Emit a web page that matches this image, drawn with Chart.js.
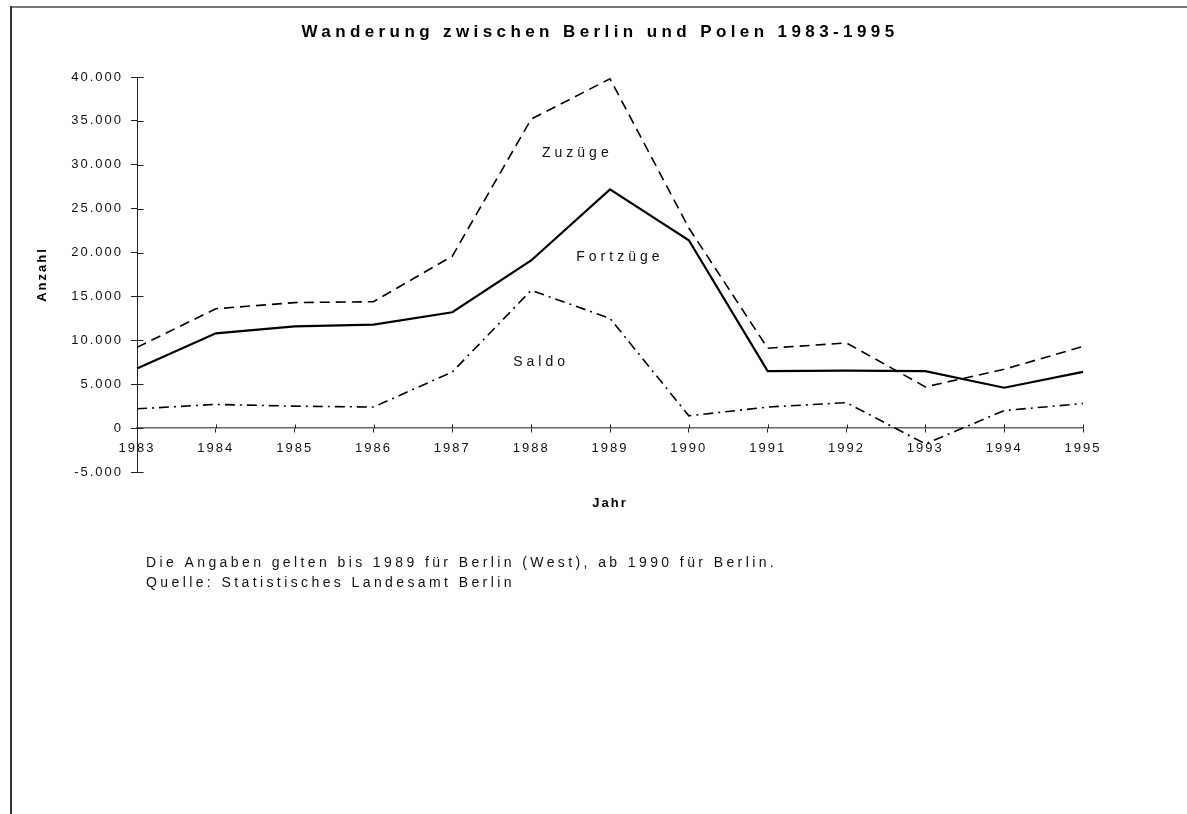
<!DOCTYPE html>
<html>
<head>
<meta charset="utf-8">
<script src="https://cdn.jsdelivr.net/npm/chart.js@4.4.1/dist/chart.umd.min.js"></script>
<style>
html, body { margin: 0; padding: 0; background: #fff; }
#wrap { position: relative; width: 1187px; height: 814px; }
</style>
</head>
<body>
<div id="wrap"><canvas id="chart"></canvas></div>
<script>
// Jahre
var jahre = ["1983", "1984", "1985", "1986", "1987", "1988", "1989",
             "1990", "1991", "1992", "1993", "1994", "1995"];
// Zuzuege aus Polen nach Berlin
var zuzuege = [9200, 13600, 14300, 14400, 19600, 35200, 39800,
               22800, 9100, 9700, 4700, 6700, 9300];
// Fortzuege aus Berlin nach Polen
var fortzuege = [6800, 10800, 11600, 11800, 13200, 19100, 27200,
                 21400, 6500, 6550, 6500, 4600, 6400];
// Saldo
var saldo = [2200, 2700, 2500, 2400, 6400, 15700, 12500,
             1400, 2400, 2900, -1800, 2000, 2800];
// y-Achse
var yTicks = [-5000, 0, 5000, 10000, 15000, 20000, 25000, 30000, 35000, 40000];

var titel = "Wanderung zwischen Berlin und Polen 1983-1995";
var fussnote = ["Die Angaben gelten bis 1989 für Berlin (West), ab 1990 für Berlin.",
                "Quelle: Statistisches Landesamt Berlin"];

var FONT = '"Liberation Sans", Arial, sans-serif';
Chart.defaults.font.family = FONT;
Chart.defaults.color = '#111';

//deutsche Tausenderpunkte
function formatZahl(v) {
    var s = String(Math.abs(v)).replace(/\B(?=(\d{3})+(?!\d))/g, ".");
    return v < 0 ? "-" + s : s;
}

// Texte an den Linien (Position in Jahr-Index / Wert)
var linienText = [
    { text: "Zuzüge", x: 5.56, y: 31300 },
    { text: "Fortzüge", x: 6.10, y: 19500 },
    { text: "Saldo", x: 5.10, y: 7500 }
];

var rahmenUndTexte = {
    id: 'rahmenUndTexte',
    beforeDraw: function (chart) {
        var ctx = chart.ctx;
        ctx.letterSpacing = '2px';
        //Rahmen oben und links
        ctx.save();
        ctx.fillStyle = '#fff';
        ctx.fillRect(0, 0, chart.width, chart.height);
        ctx.strokeStyle = '#777';
        ctx.lineWidth = 2;
        ctx.beginPath();
        ctx.moveTo(10, 7);
        ctx.lineTo(chart.width, 7);
        ctx.stroke();
        ctx.strokeStyle = '#333';
        ctx.beginPath();
        ctx.moveTo(11, 6);
        ctx.lineTo(11, chart.height);
        ctx.stroke();
        ctx.restore();
    },
    afterDraw: function (chart) {
        var ctx = chart.ctx;
        var xs = chart.scales.x, ys = chart.scales.y;
        ctx.save();
        //Ticks auch nach innen zeichnen
        ctx.strokeStyle = '#222';
        ctx.lineWidth = 1;
        var y0 = Math.round(ys.getPixelForValue(0)) + 0.5;
        for (var i = 0; i < jahre.length; i++) {
            var px = Math.round(xs.getPixelForValue(i)) + 0.5;
            ctx.beginPath();
            ctx.moveTo(px, y0 - 4);
            ctx.lineTo(px, y0);
            ctx.stroke();
        }
        var xl = Math.round(chart.chartArea.left) + 0.5;
        for (var j = 0; j < yTicks.length; j++) {
            var py = Math.round(ys.getPixelForValue(yTicks[j])) + 0.5;
            ctx.beginPath();
            ctx.moveTo(xl, py);
            ctx.lineTo(xl + 6, py);
            ctx.stroke();
        }

        ctx.fillStyle = '#000';
        //Titel
        ctx.font = 'bold 17px ' + FONT;
        ctx.letterSpacing = '4.4px';
        ctx.textAlign = 'center';
        ctx.textBaseline = 'middle';
        ctx.fillText(titel, 600, 32);

        //Linienbeschriftung
        ctx.font = '14px ' + FONT;
        ctx.letterSpacing = '4px';
        ctx.fillStyle = '#111';
        linienText.forEach(function (t) {
            ctx.fillText(t.text, xs.getPixelForValue(t.x) + 2, ys.getPixelForValue(t.y));
        });

        //Fussnote
        ctx.font = '14px ' + FONT;
        ctx.letterSpacing = '3.4px';
        ctx.textAlign = 'left';
        ctx.fillText(fussnote[0], 146, 563);
        ctx.fillText(fussnote[1], 146, 583);
        ctx.restore();
    }
};

new Chart(document.getElementById('chart'), {
    type: 'line',
    data: {
        labels: jahre,
        datasets: [
            { label: 'Zuzüge', data: zuzuege, borderColor: '#000', borderWidth: 1.6,
              borderDash: [10, 6], pointRadius: 0, fill: false, tension: 0 },
            { label: 'Fortzüge', data: fortzuege, borderColor: '#000', borderWidth: 2.2,
              pointRadius: 0, fill: false, tension: 0 },
            { label: 'Saldo', data: saldo, borderColor: '#000', borderWidth: 1.6,
              borderDash: [10, 5, 2, 5], pointRadius: 0, fill: false, tension: 0 }
        ]
    },
    options: {
        responsive: true,
        maintainAspectRatio: false,
        animation: false,
        events: [],
        layout: { padding: { left: 27, right: 104, top: 77, bottom: 342 } },
        plugins: {
            legend: { display: false },
            title: { display: false },
            tooltip: { enabled: false }
        },
        scales: {
            x: {
                type: 'category',
                position: { y: 0 },
                offset: false,
                grid: { display: true, drawOnChartArea: false, drawTicks: true,
                        tickLength: 4, color: '#222' },
                border: { display: true, color: '#666', width: 1.5 },
                ticks: { padding: 9, color: '#111', font: { size: 13 },
                         maxRotation: 0, autoSkip: false },
                title: { display: true, text: 'Jahr', color: '#000',
                         font: { size: 13, weight: 'bold' }, padding: { top: 30, bottom: 0 } }
            },
            y: {
                min: -5000,
                max: 40000,
                afterFit: function (scale) { scale.width = 110; },
                afterBuildTicks: function (scale) {
                    scale.ticks = yTicks.map(function (v) { return { value: v }; });
                },
                grid: { display: true, drawOnChartArea: false, drawTicks: true,
                        tickLength: 6, color: '#222' },
                border: { display: true, color: '#222', width: 1 },
                ticks: { padding: 8, color: '#111', font: { size: 13 },
                         callback: function (v) { return formatZahl(v); } },
                title: { display: true, text: 'Anzahl', color: '#000',
                         font: { size: 13, weight: 'bold' }, padding: { top: 8, bottom: 0 } }
            }
        }
    },
    plugins: [rahmenUndTexte]
});
</script>
</body>
</html>
